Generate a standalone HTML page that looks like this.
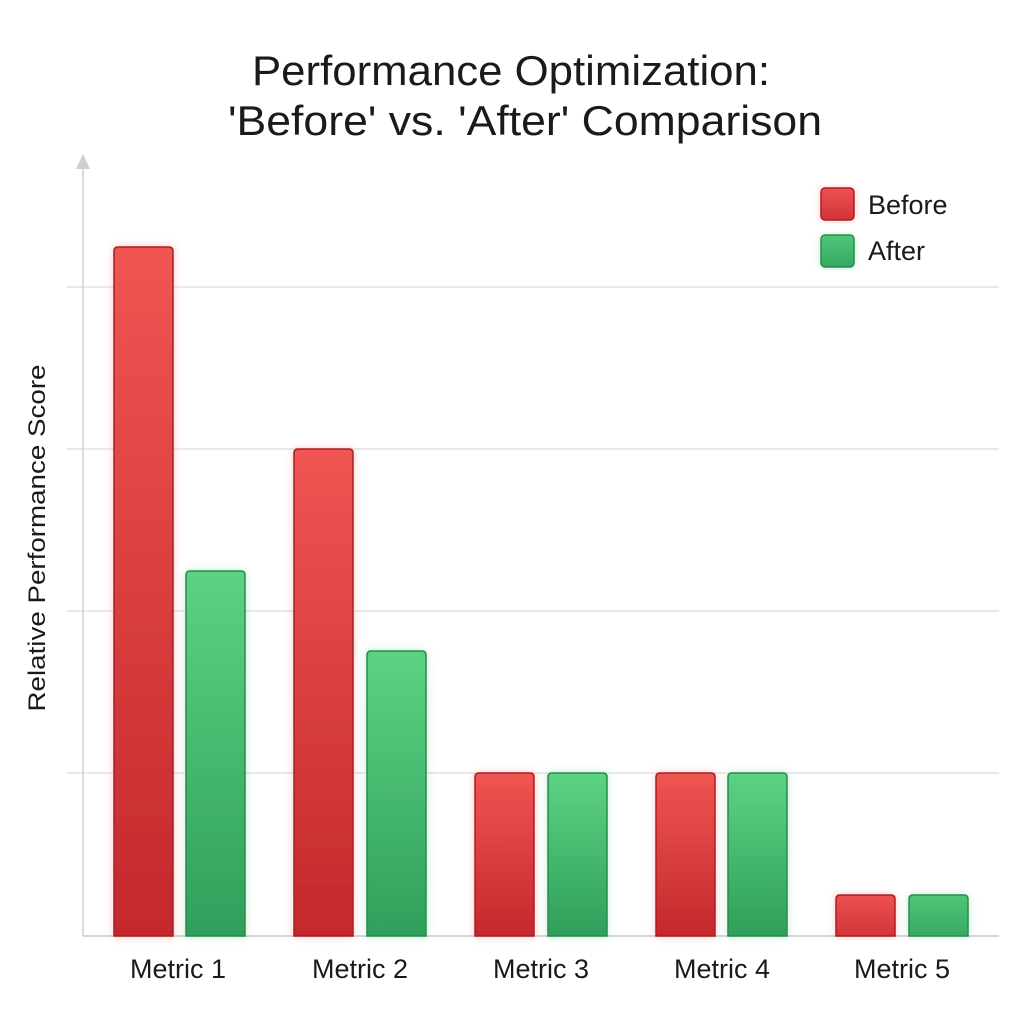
<!DOCTYPE html>
<html><head><meta charset="utf-8"><style>
html,body{margin:0;padding:0;background:#fff;}
svg{display:block;}
text{font-family:"Liberation Sans",Arial,sans-serif;fill:#1a1a1a;}
</style></head><body>
<svg width="1024" height="1024" viewBox="0 0 1024 1024" xmlns="http://www.w3.org/2000/svg">
<defs>
<linearGradient id="rg" x1="0" y1="0" x2="0" y2="1">
<stop offset="0" stop-color="#f05552"/><stop offset="1" stop-color="#c4282c"/>
</linearGradient>
<linearGradient id="gg" x1="0" y1="0" x2="0" y2="1">
<stop offset="0" stop-color="#5dd282"/><stop offset="1" stop-color="#2f9f5b"/>
</linearGradient>
<linearGradient id="rgs" x1="0" y1="0" x2="0" y2="1">
<stop offset="0" stop-color="#ee5050"/><stop offset="1" stop-color="#d03538"/>
</linearGradient>
<linearGradient id="ggs" x1="0" y1="0" x2="0" y2="1">
<stop offset="0" stop-color="#4fc677"/><stop offset="1" stop-color="#37a964"/>
</linearGradient>
<filter id="rglow" x="-40%" y="-10%" width="180%" height="120%">
<feDropShadow dx="0" dy="0" stdDeviation="4" flood-color="#ff6060" flood-opacity="0.35"/>
</filter>
<filter id="gglow" x="-40%" y="-10%" width="180%" height="120%">
<feDropShadow dx="0" dy="0" stdDeviation="4" flood-color="#50d080" flood-opacity="0.35"/>
</filter>
</defs>

<!-- title -->
<text x="511" y="85" font-size="42" text-anchor="middle" textLength="518" lengthAdjust="spacingAndGlyphs">Performance Optimization:</text>
<text x="525" y="135" font-size="42" text-anchor="middle" textLength="594" lengthAdjust="spacingAndGlyphs">'Before' vs. 'After' Comparison</text>

<!-- gridlines -->
<g stroke="#dcdcdc" stroke-width="1.3">
<line x1="67" y1="287" x2="999" y2="287"/>
<line x1="67" y1="449" x2="999" y2="449"/>
<line x1="67" y1="611" x2="999" y2="611"/>
<line x1="67" y1="773" x2="999" y2="773"/>
</g>
<!-- axes -->
<line x1="83" y1="166" x2="83" y2="936" stroke="#cfcfcf" stroke-width="1.5"/>
<polygon points="83,154 76,169 90,169" fill="#cfcfcf"/>
<line x1="83" y1="936" x2="999" y2="936" stroke="#c8c8c8" stroke-width="1.5"/>

<!-- y label -->
<text transform="translate(45,538) rotate(-90)" font-size="24" text-anchor="middle" textLength="347" lengthAdjust="spacingAndGlyphs">Relative Performance Score</text>

<!-- bars -->
<g stroke-width="1.5">
<path filter="url(#rglow)" fill="url(#rg)" stroke="#a91f22" d="M114,936 V251 Q114,247 118,247 H169 Q173,247 173,251 V936 Z"/>
<path filter="url(#gglow)" fill="url(#gg)" stroke="#2a8a4e" d="M186,936 V575 Q186,571 190,571 H241 Q245,571 245,575 V936 Z"/>
<path filter="url(#rglow)" fill="url(#rg)" stroke="#a91f22" d="M294,936 V453 Q294,449 298,449 H349 Q353,449 353,453 V936 Z"/>
<path filter="url(#gglow)" fill="url(#gg)" stroke="#2a8a4e" d="M367,936 V655 Q367,651 371,651 H422 Q426,651 426,655 V936 Z"/>
<path filter="url(#rglow)" fill="url(#rg)" stroke="#a91f22" d="M475,936 V777 Q475,773 479,773 H530 Q534,773 534,777 V936 Z"/>
<path filter="url(#gglow)" fill="url(#gg)" stroke="#2a8a4e" d="M548,936 V777 Q548,773 552,773 H603 Q607,773 607,777 V936 Z"/>
<path filter="url(#rglow)" fill="url(#rg)" stroke="#a91f22" d="M656,936 V777 Q656,773 660,773 H711 Q715,773 715,777 V936 Z"/>
<path filter="url(#gglow)" fill="url(#gg)" stroke="#2a8a4e" d="M728,936 V777 Q728,773 732,773 H783 Q787,773 787,777 V936 Z"/>
<path filter="url(#rglow)" fill="url(#rgs)" stroke="#a91f22" d="M836,936 V899 Q836,895 840,895 H891 Q895,895 895,899 V936 Z"/>
<path filter="url(#gglow)" fill="url(#ggs)" stroke="#2a8a4e" d="M909,936 V899 Q909,895 913,895 H964 Q968,895 968,899 V936 Z"/>
</g>

<!-- x labels -->
<g font-size="27" text-anchor="middle">
<text x="178" y="978">Metric 1</text>
<text x="360" y="978">Metric 2</text>
<text x="541" y="978">Metric 3</text>
<text x="722" y="978">Metric 4</text>
<text x="902" y="978">Metric 5</text>
</g>

<!-- legend -->
<rect x="821" y="188" width="33" height="32" rx="4" fill="url(#rgs)" stroke="#a91f22" stroke-width="1.5" filter="url(#rglow)"/>
<rect x="821" y="235" width="33" height="32" rx="4" fill="url(#ggs)" stroke="#2a8a4e" stroke-width="1.5" filter="url(#gglow)"/>
<text x="868" y="214" font-size="27">Before</text>
<text x="868" y="260" font-size="27">After</text>
</svg>
</body></html>
